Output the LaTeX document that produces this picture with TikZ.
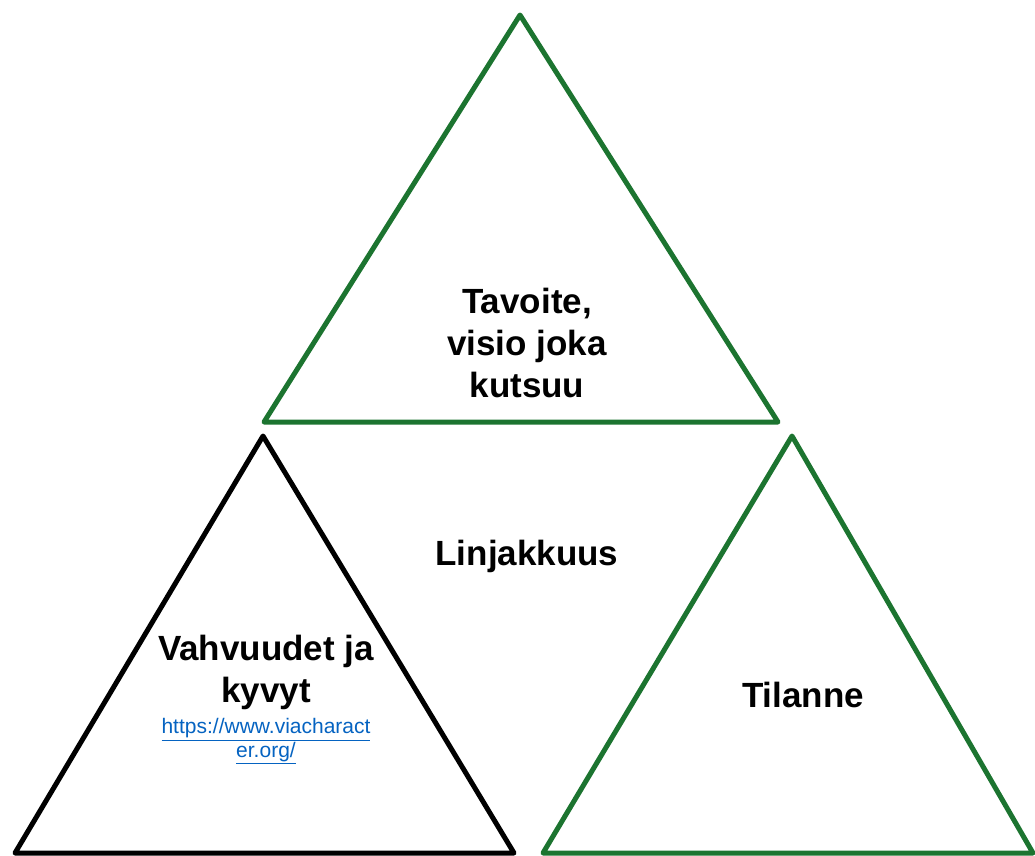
\documentclass[tikz,border=0pt]{standalone}
\usepackage{fontspec}
\setmainfont{Liberation Sans}
\usetikzlibrary{positioning}
\definecolor{trigreen}{HTML}{1C7430}
\definecolor{linkblue}{HTML}{0563C1}
\tikzset{
  tri/.style={draw=trigreen, line width=5pt, line join=round},
  blacktri/.style={tri, draw=black},
  bigtxt/.style={font=\fontsize{35}{42}\selectfont\bfseries, align=center,
    inner sep=0pt, text=black},
  linktxt/.style={font=\fontsize{21}{23.5}\selectfont, align=center,
    inner sep=0pt, text=linkblue},
}

\begin{document}
\begin{tikzpicture}[x=1pt,y=-1pt]
  \useasboundingbox (0,0) rectangle (1035,855);
  % the three triangles
  \draw[tri] (520,15) -- (778,422) -- (264,422) -- cycle;
  \draw[blacktri] (263,436) -- (514,853) -- (15,853) -- cycle;
  \draw[tri] (792,436) -- (1033,853) -- (543,853) -- cycle;
  % texts
  \node[bigtxt] (goal) at (527,343) {Tavoite,\\visio joka\\kutsuu};
  \node[bigtxt] (line) at (527,556) {Linjakkuus};
  \node[bigtxt] (strength) at (266,672) {Vahvuudet ja\\kyvyt};
  \node[linktxt, below=9pt of strength] (link)
    {\underline{https://www.viacharact}\\\underline{er.org/}};
  \node[bigtxt] (situation) at (803,695) {Tilanne};
\end{tikzpicture}
\end{document}
